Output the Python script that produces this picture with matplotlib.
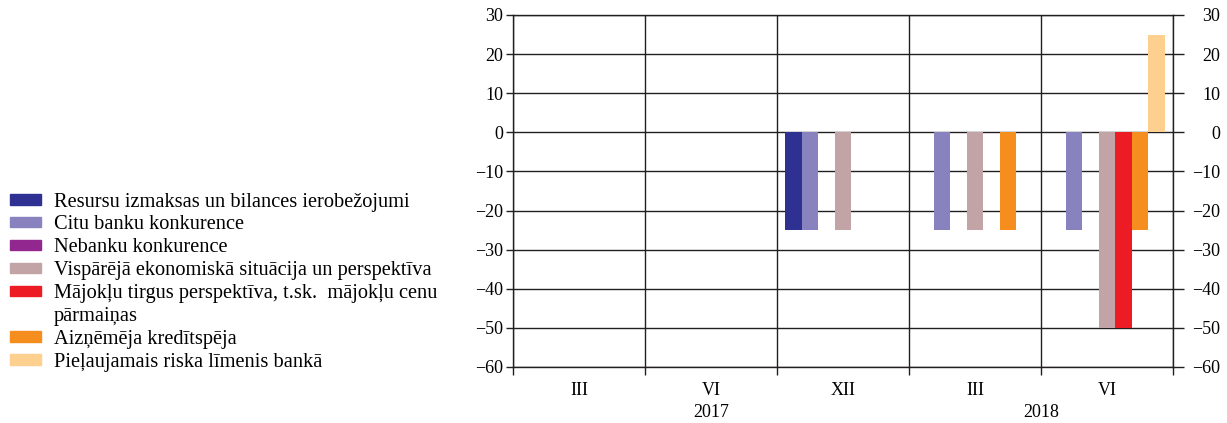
import numpy as np
import matplotlib.pyplot as plt
from matplotlib.patches import Patch
from matplotlib.ticker import FixedLocator, NullFormatter

plt.rcParams["font.family"] = ["Liberation Serif", "DejaVu Serif"]

months = ["III", "VI", "XII", "III", "VI"]
years = ["2017", "2018"]
year_pos = [1.5, 4.0]

series_names = [
    "Resursu izmaksas un bilances ierobežojumi",
    "Citu banku konkurence",
    "Nebanku konkurence",
    "Vispārējā ekonomiskā situācija un perspektīva",
    "Mājokļu tirgus perspektīva, t.sk.  mājokļu cenu",
    "Aizņēmēja kredītspēja",
    "Pieļaujamais riska līmenis bankā",
]
series_colors = ["#2e3192", "#8882be", "#92278f", "#c2a4a6", "#ed1c24", "#f68e1f", "#fdd08f"]

resursi = [0, 0, -25, 0, 0]
citas_bankas = [0, 0, -25, -25, -25]
nebankas = [0, 0, 0, 0, 0]
ekonomika = [0, 0, -25, -25, -50]
majoklu_tirgus = [0, 0, 0, 0, -50]
kreditspeja = [0, 0, 0, -25, -25]
riska_limenis = [0, 0, 0, 0, 25]
values = [resursi, citas_bankas, nebankas, ekonomika, majoklu_tirgus, kreditspeja, riska_limenis]

fig = plt.figure(figsize=(12.27, 4.23), dpi=100)
ax = fig.add_axes([0.418, 0.1324, 0.538, 0.8322])

x = np.arange(len(months))
w = 0.125
for i, (vals, col) in enumerate(zip(values, series_colors)):
    ax.bar(x + 0.0625 + w * i, vals, width=w, align="edge", color=col, zorder=3)

ax.set_xlim(0, len(months))
ax.set_ylim(-60, 30)
ax.set_yticks(range(-60, 31, 10))
ax.xaxis.set_major_locator(FixedLocator(range(len(months) + 1)))
ax.xaxis.set_major_formatter(NullFormatter())
ax.xaxis.set_minor_locator(FixedLocator(x + 0.5))
ax.set_xticklabels(months, minor=True)
ax.tick_params(axis="x", which="major", length=6, width=1, color="#231f20")
ax.tick_params(axis="x", which="minor", length=0, pad=10.5, labelsize=13)
ax.tick_params(axis="y", length=5, width=1, color="#231f20", labelsize=13, pad=2)
ax.grid(True, which="major", color="#231f20", lw=1, zorder=1)
for s in ax.spines.values():
    s.set_color("#231f20")
    s.set_linewidth(1)

# right axis, labels right aligned
ax2 = ax.twinx()
ax2.set_ylim(-60, 30)
ax2.set_yticks(range(-60, 31, 10))
ax2.tick_params(axis="y", length=8, width=1, color="#231f20", labelsize=13, pad=26)
for lbl in ax2.get_yticklabels():
    lbl.set_horizontalalignment("right")
for s in ax2.spines.values():
    s.set_visible(False)

for yr, xp in zip(years, year_pos):
    ax.text(xp, -0.129, yr, transform=ax.get_xaxis_transform(), ha="center", va="center", fontsize=13)

handles = [Patch(color=c) for c in series_colors]
labels = list(series_names)
handles.insert(5, Patch(color="none"))
labels.insert(5, "pārmaiņas")
fig.legend(handles, labels, loc="center left", bbox_to_anchor=(0.008, 0.333), frameon=False,
           fontsize=14.7, handlelength=1.55, handleheight=0.42, handletextpad=0.62,
           labelspacing=0.19, borderaxespad=0, borderpad=0)

fig.savefig("out.png", dpi=100)
